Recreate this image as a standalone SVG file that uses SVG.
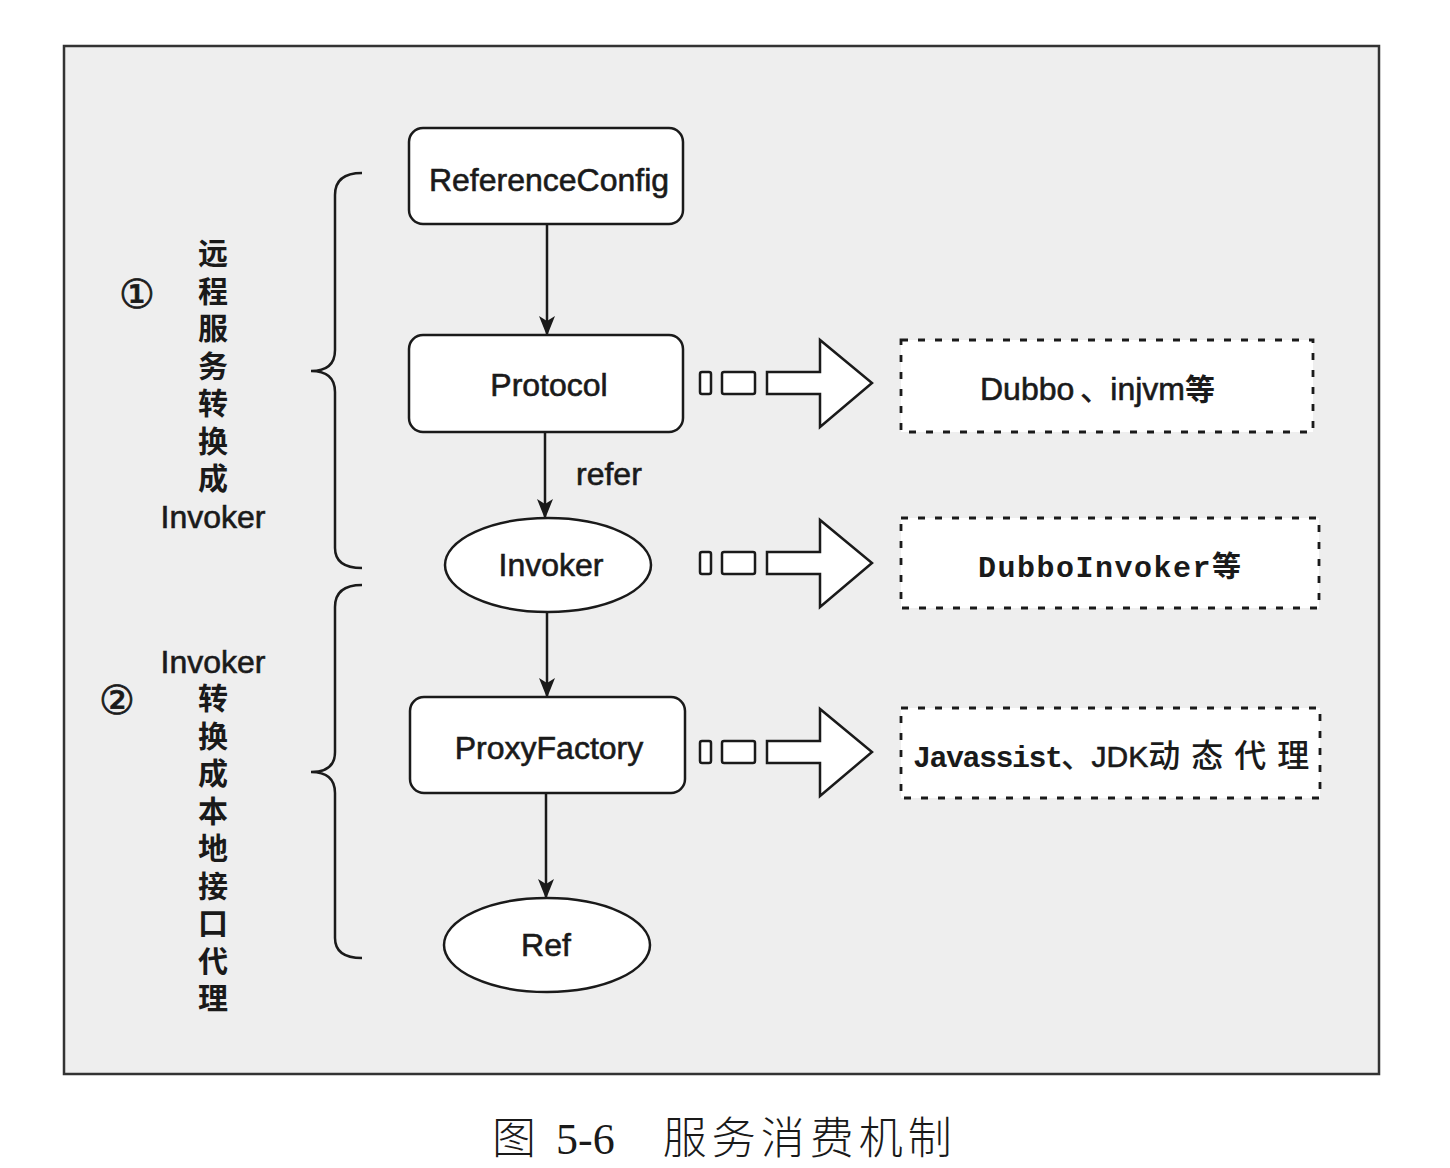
<svg xmlns="http://www.w3.org/2000/svg" width="1450" height="1168" viewBox="0 0 1450 1168">
<defs>
<marker id="ah" markerWidth="20" markerHeight="16" refX="19" refY="8" orient="auto" markerUnits="userSpaceOnUse" viewBox="0 0 20 16">
<path d="M0,0 L20,8 L0,16 L5,8 Z" fill="#1a1a1a"/>
</marker>
<path id="blk" d="M767,-11 H820 V-43 L872,0 L820,44 V11 H767 Z"/>
</defs>
<style>
.frame{fill:#eeeeee;stroke:#333;stroke-width:2.5}
.box{fill:#fff;stroke:#1a1a1a;stroke-width:2.5}
.dash{fill:#fff;stroke:#1a1a1a;stroke-width:2.8;stroke-dasharray:7 10}
.conn{stroke:#1a1a1a;stroke-width:2.5;fill:none}
.brace{stroke:#1a1a1a;stroke-width:2.5;fill:none}
.sans{font-family:"Liberation Sans","Noto Sans CJK SC",sans-serif;font-size:32px;fill:#1a1a1a;stroke:#1a1a1a;stroke-width:0.6}
.mono{font-family:"Liberation Mono","DejaVu Sans Mono",monospace;font-size:30px;font-weight:bold;fill:#1a1a1a}
.vert{font-family:"Noto Sans CJK SC",sans-serif;font-size:30px;font-weight:700;fill:#1a1a1a;writing-mode:vertical-rl;letter-spacing:7.5px}
.cap{font-family:"Noto Sans CJK SC",sans-serif;font-size:44px;font-weight:300;fill:#1a1a1a}
.capn{font-family:"Liberation Serif",serif;font-size:44px;fill:#1a1a1a}
.num{font-family:"DejaVu Sans",sans-serif;font-size:40px;fill:#1a1a1a;stroke:#1a1a1a;stroke-width:0.8}
.sm{fill:#fff;stroke:#1a1a1a;stroke-width:2.5}
</style>
<rect width="1450" height="1168" fill="#fff"/>
<rect class="frame" x="64" y="46" width="1315" height="1028"/>

<g id="connectors">
<line class="conn" x1="547" y1="224" x2="547" y2="335" marker-end="url(#ah)"/>
<line class="conn" x1="545" y1="432" x2="545" y2="518" marker-end="url(#ah)"/>
<text class="sans" x="576" y="485">refer</text>
<line class="conn" x1="547" y1="612" x2="547" y2="697" marker-end="url(#ah)"/>
<line class="conn" x1="546" y1="793" x2="546" y2="898" marker-end="url(#ah)"/>
<g id="blockarrow1">
<rect class="sm" x="700" y="372" width="11" height="22" rx="2"/>
<rect class="sm" x="722" y="372" width="33" height="22" rx="2"/>
<use href="#blk" y="383" class="sm"/>
</g>
<g id="blockarrow2">
<rect class="sm" x="700" y="552" width="11" height="22" rx="2"/>
<rect class="sm" x="722" y="552" width="33" height="22" rx="2"/>
<use href="#blk" y="563" class="sm"/>
</g>
<g id="blockarrow3">
<rect class="sm" x="700" y="741" width="11" height="22" rx="2"/>
<rect class="sm" x="722" y="741" width="33" height="22" rx="2"/>
<use href="#blk" y="752" class="sm"/>
</g>
</g>

<g id="n-referenceconfig">
<rect class="box" x="409" y="128" width="274" height="96" rx="14"/>
<text class="sans" x="549" y="191" text-anchor="middle">ReferenceConfig</text>
</g>
<g id="n-protocol">
<rect class="box" x="409" y="335" width="274" height="97" rx="14"/>
<text class="sans" x="549" y="396" text-anchor="middle">Protocol</text>
</g>
<g id="n-invoker">
<ellipse class="box" cx="548" cy="565" rx="103" ry="47"/>
<text class="sans" x="551" y="576" text-anchor="middle">Invoker</text>
</g>
<g id="n-proxyfactory">
<rect class="box" x="410" y="697" width="275" height="96" rx="14"/>
<text class="sans" x="549" y="759" text-anchor="middle">ProxyFactory</text>
</g>
<g id="n-ref">
<ellipse class="box" cx="547" cy="945" rx="103" ry="47"/>
<text class="sans" x="546" y="956" text-anchor="middle">Ref</text>
</g>

<g id="n-dubbo">
<rect class="dash" x="901" y="340" width="412" height="92"/>
<text class="sans" x="980" y="400" font-size="34">Dubbo<tspan font-size="30" dx="6">、</tspan><tspan>injvm</tspan><tspan font-family="Noto Sans CJK SC" font-size="30" font-weight="700" stroke-width="0">等</tspan></text>
</g>
<g id="n-dubboinvoker">
<rect class="dash" x="901" y="518" width="418" height="90"/>
<text class="mono" x="978" y="577" letter-spacing="1.5">DubboInvoker<tspan font-family="Noto Sans CJK SC" font-size="29" letter-spacing="0">等</tspan></text>
</g>
<g id="n-javassist">
<rect class="dash" x="901" y="708" width="419" height="90"/>
<text class="mono" x="913" y="767" font-size="25" letter-spacing="-1.5">Javassist<tspan font-family="Liberation Sans,Noto Sans CJK SC,sans-serif" font-size="30" font-weight="normal" letter-spacing="0" stroke="#1a1a1a" stroke-width="0.6">、JDK</tspan><tspan font-family="Noto Sans CJK SC" font-size="32" font-weight="500" letter-spacing="11">动态代理</tspan></text>
</g>

<g id="brace1">
<path class="brace" d="M362,173 Q335,173 335,195 V350 Q335,371 311,371 Q335,371 335,392 V548 Q335,568 362,568"/>
</g>
<g id="brace2">
<path class="brace" d="M362,585 Q335,585 335,607 V752 Q335,772 311,772 Q335,772 335,793 V938 Q335,958 362,958"/>
</g>

<g id="label1">
<text class="num" x="137" y="308" text-anchor="middle">①</text>
<text class="vert" x="213" y="238">远程服务转换成</text>
<text class="sans" x="213" y="528" text-anchor="middle">Invoker</text>
</g>
<g id="label2">
<text class="num" x="117" y="714" text-anchor="middle">②</text>
<text class="sans" x="213" y="673" text-anchor="middle">Invoker</text>
<text class="vert" x="213" y="683">转换成本地接口代理</text>
</g>

<g id="caption">
<text class="cap" x="492" y="1154">图<tspan class="capn" dx="20">5-6</tspan><tspan dx="48" letter-spacing="5">服务消费机制</tspan></text>
</g>
</svg>
